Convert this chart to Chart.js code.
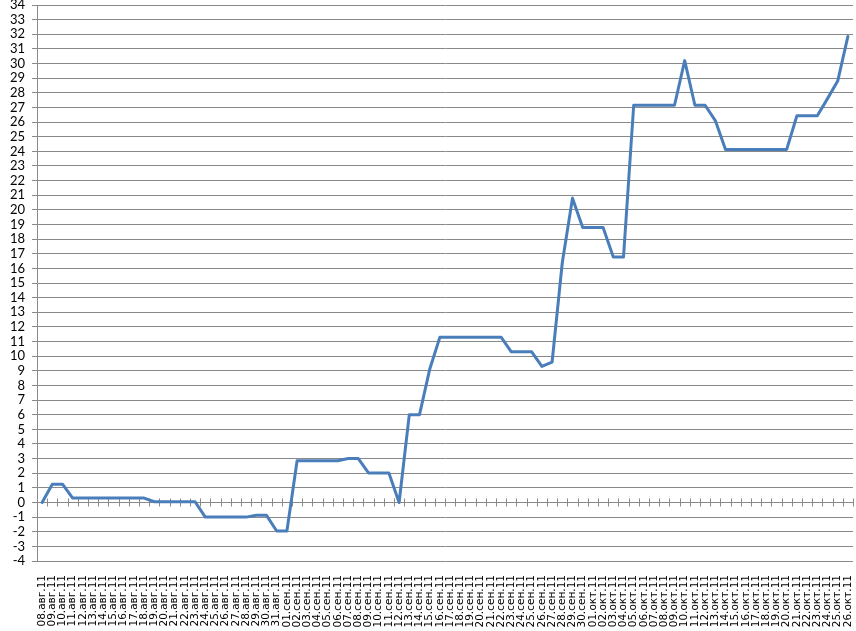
<!DOCTYPE html>
<html>
<head>
<meta charset="utf-8">
<script src="https://cdn.jsdelivr.net/npm/chart.js@4/dist/chart.umd.min.js"></script>
<style>
  html, body { margin: 0; padding: 0; background: #ffffff; }
  #wrap { width: 856px; height: 631px; }
</style>
</head>
<body>
<div id="wrap"><canvas id="c" width="856" height="631"></canvas></div>
<script>
const categories = [
  "08.авг.11","09.авг.11","10.авг.11","11.авг.11","12.авг.11","13.авг.11","14.авг.11","15.авг.11",
  "16.авг.11","17.авг.11","18.авг.11","19.авг.11","20.авг.11","21.авг.11","22.авг.11","23.авг.11",
  "24.авг.11","25.авг.11","26.авг.11","27.авг.11","28.авг.11","29.авг.11","30.авг.11","31.авг.11",
  "01.сен.11","02.сен.11","03.сен.11","04.сен.11","05.сен.11","06.сен.11","07.сен.11","08.сен.11",
  "09.сен.11","10.сен.11","11.сен.11","12.сен.11","13.сен.11","14.сен.11","15.сен.11","16.сен.11",
  "17.сен.11","18.сен.11","19.сен.11","20.сен.11","21.сен.11","22.сен.11","23.сен.11","24.сен.11",
  "25.сен.11","26.сен.11","27.сен.11","28.сен.11","29.сен.11","30.сен.11",
  "01.окт.11","02.окт.11","03.окт.11","04.окт.11","05.окт.11","06.окт.11","07.окт.11","08.окт.11",
  "09.окт.11","10.окт.11","11.окт.11","12.окт.11","13.окт.11","14.окт.11","15.окт.11","16.окт.11",
  "17.окт.11","18.окт.11","19.окт.11","20.окт.11","21.окт.11","22.окт.11","23.окт.11","24.окт.11",
  "25.окт.11","26.окт.11"
];

const seriesValues = [
  0, 1.25, 1.25, 0.3, 0.3, 0.3, 0.3, 0.3,
  0.3, 0.3, 0.3, 0.05, 0.05, 0.05, 0.05, 0.05,
  -1, -1, -1, -1, -1, -0.88, -0.88, -1.95,
  -1.95, 2.85, 2.85, 2.85, 2.85, 2.85, 3.0, 3.0,
  2.02, 2.02, 2.02, 0, 6.0, 6.0, 9.1, 11.3,
  11.3, 11.3, 11.3, 11.3, 11.3, 11.3, 10.3, 10.3,
  10.3, 9.3, 9.6, 16.4, 20.8, 18.8,
  18.8, 18.8, 16.77, 16.77, 27.15, 27.15, 27.15, 27.15,
  27.15, 30.2, 27.15, 27.15, 26.1, 24.13, 24.13, 24.13,
  24.13, 24.13, 24.13, 24.13, 26.43, 26.43, 26.43, 27.6,
  28.8, 31.85
];

const yMin = -4;
const yMax = 34;
const yStep = 1;

const gridColor = '#898989';

const zeroAxisTicks = {
  id: 'zeroAxisTicks',
  beforeDatasetsDraw(chart) {
    const xs = chart.scales.x, ys = chart.scales.y;
    const y0 = ys.getPixelForValue(0);
    const half = (xs.getPixelForValue(1) - xs.getPixelForValue(0)) / 2;
    const ctx = chart.ctx;
    ctx.save();
    ctx.strokeStyle = gridColor;
    ctx.lineWidth = 1;
    ctx.beginPath();
    for (let i = 0; i < categories.length; i++) {
      const x = Math.round(xs.getPixelForValue(i) + half) + 0.5;
      ctx.moveTo(x, y0 - 4);
      ctx.lineTo(x, y0 + 4);
    }
    ctx.stroke();
    ctx.restore();
  }
};

new Chart(document.getElementById('c'), {
  type: 'line',
  data: {
    labels: categories,
    datasets: [{
      data: seriesValues,
      borderColor: '#4A7EBB',
      borderWidth: 3,
      pointRadius: 0,
      tension: 0,
      fill: false,
      borderJoinStyle: 'round',
      borderCapStyle: 'round'
    }]
  },
  options: {
    responsive: false,
    animation: false,
    layout: { padding: { top: 0, right: 3, bottom: 0, left: 0 } },
    plugins: { legend: { display: false }, tooltip: { enabled: false } },
    scales: {
      x: {
        offset: true,
        grid: { display: false, drawTicks: false, offset: true },
        border: { display: false },
        ticks: {
          autoSkip: false,
          minRotation: 90,
          maxRotation: 90,
          padding: 14,
          color: '#000000',
          font: { family: 'DejaVu Sans', size: 10.5 }
        },
        afterFit(scale) {
          scale.height = 70;
          scale.paddingLeft = 0;
          scale.paddingRight = 0;
        }
      },
      y: {
        min: yMin,
        max: yMax,
        grid: { color: gridColor, lineWidth: 1, tickLength: 5, drawTicks: true },
        border: { display: true, color: gridColor, width: 1 },
        ticks: {
          stepSize: yStep,
          autoSkip: false,
          padding: 7,
          color: '#000000',
          font: { family: 'Lato', size: 13, lineHeight: 0.8 }
        },
        afterFit(scale) {
          scale.width = 37;
          scale.paddingTop = 5;
          scale.paddingBottom = 0;
        }
      }
    }
  },
  plugins: [zeroAxisTicks]
});
</script>
</body>
</html>
